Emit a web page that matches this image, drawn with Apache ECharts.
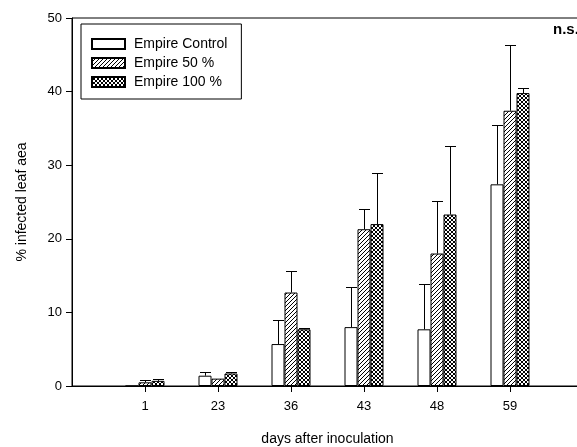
<!DOCTYPE html>
<html>
<head>
<meta charset="utf-8">
<script src="https://cdn.jsdelivr.net/npm/echarts@6/dist/echarts.min.js"></script>
<style>
  html, body { margin: 0; padding: 0; background: #fff; }
  #chart { width: 577px; height: 447px; }
</style>
</head>
<body>
<div id="chart"></div>
<script>
// days after inoculation (empty slots pad the axis at both ends)
const days = ['', '1', '23', '36', '43', '48', '59', ''];
const seriesNames = ['Empire Control', 'Empire 50 %', 'Empire 100 %'];

// mean % infected leaf area
const control = [null, 0, 1.4, 5.7, 8.0, 7.7, 27.4, null];
const half = [null, 0.5, 1.0, 12.7, 21.3, 18.0, 37.4, null];
const full = [null, 0.7, 1.7, 7.7, 22.0, 23.3, 39.8, null];

// upper error (added to mean)
const controlErr = [null, 0, 0.5, 3.2, 5.5, 6.1, 8.0, null];
const halfErr = [null, 0.3, 0, 2.9, 2.7, 7.2, 8.9, null];
const fullErr = [null, 0.2, 0.2, 0.2, 7.0, 9.3, 0.7, null];

const yTicks = [0, 10, 20, 30, 40, 50];

const BAR_W = 13;

function makePattern(cross) {
  const c = document.createElement('canvas');
  c.width = 4; c.height = 4;
  const g = c.getContext('2d');
  g.fillStyle = '#fff';
  g.fillRect(0, 0, 4, 4);
  g.strokeStyle = '#000';
  g.lineWidth = 1;
  g.beginPath();
  g.moveTo(0, 4); g.lineTo(4, 0);
  g.moveTo(-1, 1); g.lineTo(1, -1);
  g.moveTo(3, 5); g.lineTo(5, 3);
  if (cross) {
    g.moveTo(0, 0); g.lineTo(4, 4);
    g.moveTo(-1, 3); g.lineTo(1, 5);
    g.moveTo(3, -1); g.lineTo(5, 1);
  }
  g.stroke();
  return c;
}

const fills = [
  '#fff',
  { image: makePattern(false), repeat: 'repeat' },
  { image: makePattern(true), repeat: 'repeat' }
];

function barSeries(name, data, i) {
  return {
    name: name,
    type: 'bar',
    data: data,
    barWidth: BAR_W,
    barGap: '0%',
    itemStyle: { color: fills[i], borderColor: '#000', borderWidth: 1 },
    z: 2
  };
}

function errSeries(mean, err, i) {
  const data = [];
  mean.forEach((m, k) => {
    if (m !== null && err[k] > 0) data.push([k, m, m + err[k]]);
  });
  const offset = (i - 1) * BAR_W;
  return {
    type: 'custom',
    data: data,
    z: 3,
    silent: true,
    renderItem(params, api) {
      const base = api.coord([api.value(0), api.value(1)]);
      const top = api.coord([api.value(0), api.value(2)]);
      const x = Math.round(base[0] + offset) + 0.5;
      const yt = Math.round(top[1]) + 0.5;
      return {
        type: 'group',
        children: [
          { type: 'line', shape: { x1: x, y1: base[1], x2: x, y2: yt }, style: { stroke: '#000', lineWidth: 1 } },
          { type: 'line', shape: { x1: x - 5.5, y1: yt, x2: x + 5.5, y2: yt }, style: { stroke: '#000', lineWidth: 1 } }
        ]
      };
    }
  };
}

const option = {
  animation: false,
  backgroundColor: '#fff',
  textStyle: { fontFamily: 'Liberation Sans, Arial, sans-serif', color: '#000' },
  grid: {
    left: 72, top: 18, width: 511, height: 368,
    outerBoundsMode: 'none',
    containLabel: false,
    show: true, borderColor: '#000', borderWidth: 1, backgroundColor: 'transparent'
  },
  legend: {
    data: seriesNames,
    orient: 'vertical',
    left: 81, top: 24,
    itemWidth: 33, itemHeight: 10, itemGap: 5,
    padding: [13, 14, 10, 10],
    borderColor: '#000', borderWidth: 1,
    icon: 'rect',
    textStyle: { fontSize: 14, color: '#000', padding: [0, 0, 0, 4], fontFamily: 'Liberation Sans, Arial, sans-serif' }
  },
  xAxis: {
    type: 'category',
    data: days,
    boundaryGap: false,
    name: 'days after inoculation',
    nameLocation: 'middle',
    nameGap: 46,
    nameTextStyle: { fontSize: 14, color: '#000' },
    axisLine: { lineStyle: { color: '#000', width: 1 } },
    axisTick: { length: 6, lineStyle: { color: '#000' }, interval: (i, v) => v !== '' },
    axisLabel: { fontSize: 13, color: '#000', margin: 14, interval: 0 },
    splitLine: { show: false }
  },
  yAxis: {
    type: 'value',
    min: 0, max: 50, interval: 10,
    name: '% infected leaf aea',
    nameLocation: 'middle',
    nameGap: 43,
    nameTextStyle: { fontSize: 14, color: '#000' },
    axisLine: { show: true, lineStyle: { color: '#000', width: 1 } },
    axisTick: { show: true, length: 6, lineStyle: { color: '#000' } },
    axisLabel: { fontSize: 13, color: '#000', margin: 10, formatter: v => yTicks.includes(v) ? String(v) : '' },
    splitLine: { show: false }
  },
  graphic: [{
    type: 'text',
    left: 553, top: 22,
    style: { text: 'n.s.', font: 'bold 15px Liberation Sans, Arial, sans-serif', fill: '#000' }
  }],
  series: [
    barSeries(seriesNames[0], control, 0),
    barSeries(seriesNames[1], half, 1),
    barSeries(seriesNames[2], full, 2),
    errSeries(control, controlErr, 0),
    errSeries(half, halfErr, 1),
    errSeries(full, fullErr, 2)
  ]
};

echarts.init(document.getElementById('chart')).setOption(option);
</script>
</body>
</html>
